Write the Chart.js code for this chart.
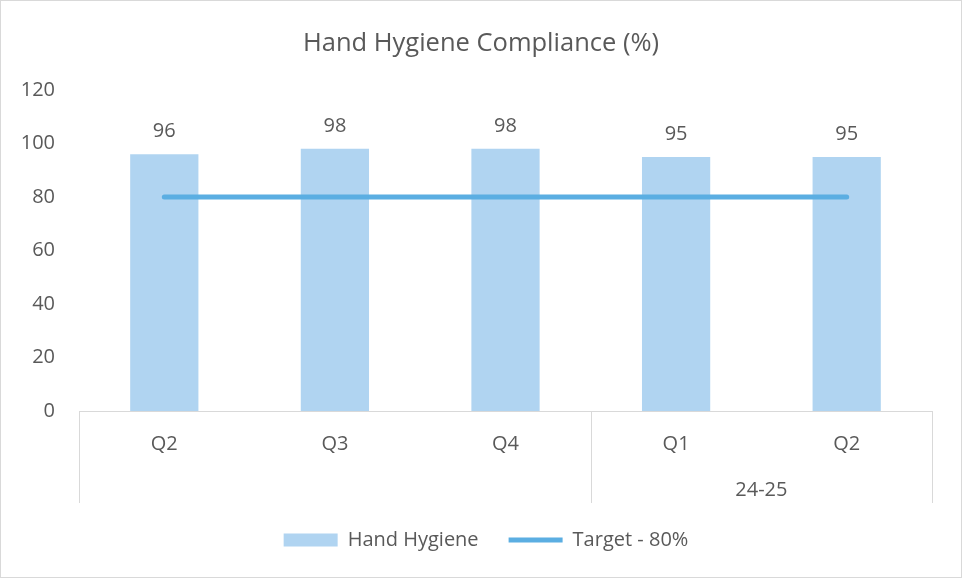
<!DOCTYPE html>
<html>
<head>
<meta charset="utf-8">
<title>Hand Hygiene Compliance</title>
<script src="https://cdn.jsdelivr.net/npm/chart.js@4/dist/chart.umd.min.js"></script>
<style>
    body { margin: 0; background: #fff; }
    #wrap { width: 962px; height: 578px; }
</style>
</head>
<body>
<div id="wrap"><canvas id="chart" width="962" height="578"></canvas></div>
<script>
const categories = ["Q2", "Q3", "Q4", "Q1", "Q2"];
const groupLabels = ["", "24-25"];
const groupSizes = [3, 2];
const handHygiene = [96, 98, 98, 95, 95];
const target = [80, 80, 80, 80, 80];
const yTicks = [0, 20, 40, 60, 80, 100, 120];

const textColor = "#595959";
const lineGrey = "#D9D9D9";
const font = "Open Sans";

// outer frame, group separators, group labels and value labels
const extras = {
    id: "extras",
    afterLayout(chart) {
        // title and legend are centred on the whole frame in the original
        chart.titleBlock.left += 10;
        chart.titleBlock.right += 10;
        chart.legend.left += 15;
        chart.legend.right += 15;
    },
    beforeDraw(chart) {
        const ctx = chart.ctx;
        ctx.save();
        ctx.strokeStyle = lineGrey;
        ctx.lineWidth = 1;
        ctx.strokeRect(0.5, 0.5, chart.width - 1, chart.height - 1);
        ctx.restore();
    },
    afterDraw(chart) {
        const ctx = chart.ctx;
        const x = chart.scales.x;
        const top = x.top;
        const bottom = top + 92;
        const half = (x.getPixelForValue(1) - x.getPixelForValue(0)) / 2;

        ctx.save();
        ctx.strokeStyle = lineGrey;
        ctx.lineWidth = 1;
        let start = 0;
        const edges = [x.left];
        groupSizes.forEach(n => {
            const end = start + n - 1;
            edges.push(Math.round(x.getPixelForValue(end) + half));
            start += n;
        });
        edges.forEach(px => {
            ctx.beginPath();
            ctx.moveTo(Math.round(px) + 0.5, top);
            ctx.lineTo(Math.round(px) + 0.5, bottom);
            ctx.stroke();
        });

        ctx.fillStyle = textColor;
        ctx.font = "20px '" + font + "'";
        ctx.textAlign = "center";
        ctx.textBaseline = "middle";
        start = 0;
        groupSizes.forEach((n, g) => {
            const mid = (x.getPixelForValue(start) + x.getPixelForValue(start + n - 1)) / 2;
            ctx.fillText(groupLabels[g], mid, top + 79);
            start += n;
        });

        const meta = chart.getDatasetMeta(0);
        meta.data.forEach((bar, i) => {
            ctx.fillText(String(handHygiene[i]), bar.x, bar.y - 23);
        });
        ctx.restore();
    }
};

new Chart(document.getElementById("chart"), {
    data: {
        labels: categories,
        datasets: [
            {
                type: "bar",
                label: "Hand Hygiene",
                data: handHygiene,
                backgroundColor: "#B0D4F1",
                borderWidth: 0,
                barPercentage: 0.4,
                categoryPercentage: 1,
                pointStyle: "rect",
                order: 1
            },
            {
                type: "line",
                label: "Target - 80%",
                data: target,
                borderColor: "#5BAEE2",
                backgroundColor: "#5BAEE2",
                borderWidth: 5,
                borderCapStyle: "round",
                pointRadius: 0,
                pointStyle: "line",
                order: 0
            }
        ]
    },
    options: {
        responsive: false,
        animation: false,
        layout: { padding: { left: 10, right: 30, bottom: 18 } },
        plugins: {
            title: {
                display: true,
                text: "Hand Hygiene Compliance (%)",
                color: textColor,
                font: { family: font, size: 25.5, weight: "normal", lineHeight: 1.2 },
                padding: { top: 28, bottom: 31.4 }
            },
            legend: {
                position: "bottom",
                labels: {
                    color: textColor,
                    font: { family: font, size: 20 },
                    usePointStyle: true,
                    pointStyleWidth: 54,
                    boxHeight: 13,
                    padding: 30,
                    sort: (a, b) => a.datasetIndex - b.datasetIndex
                }
            },
            tooltip: { enabled: false }
        },
        scales: {
            x: {
                grid: { display: false, drawTicks: false },
                border: { display: true, color: lineGrey },
                ticks: { color: textColor, font: { family: font, size: 20 }, padding: 21 },
                afterFit(scale) { scale.height = 89; }
            },
            y: {
                min: 0,
                max: 120,
                grid: { display: false, drawTicks: false },
                border: { display: false },
                afterBuildTicks(scale) { scale.ticks = yTicks.map(v => ({ value: v })); },
                ticks: { color: textColor, font: { family: font, size: 20 }, padding: 24 },
                afterFit(scale) { scale.width = 69; }
            }
        }
    },
    plugins: [extras]
});
</script>
</body>
</html>
